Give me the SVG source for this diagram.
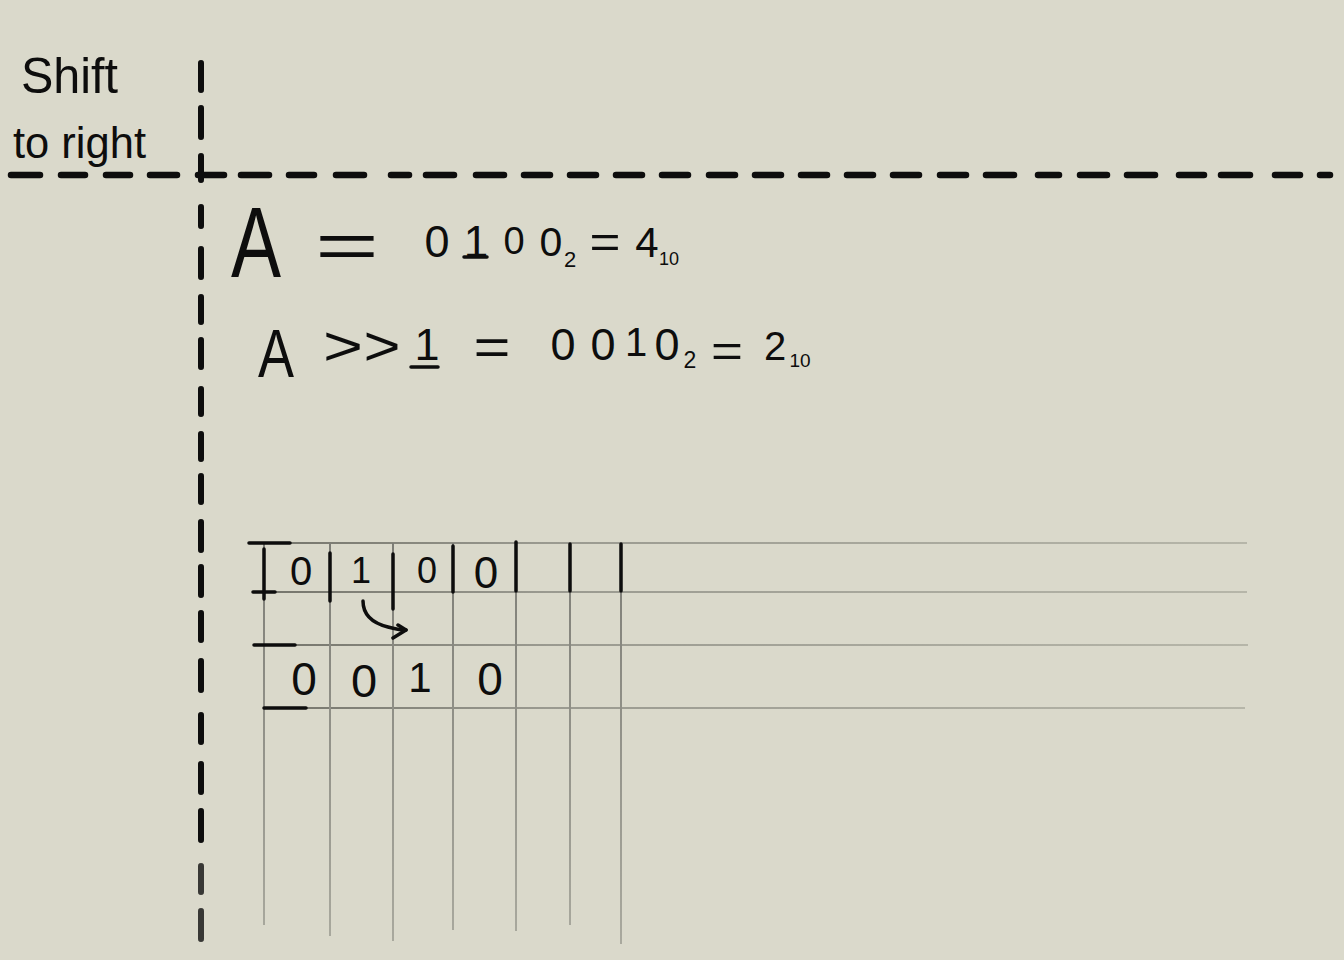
<svg xmlns="http://www.w3.org/2000/svg" width="1344" height="960" viewBox="0 0 1344 960">
<defs>
<style>
.hw{font-family:"Liberation Sans",Arial,sans-serif;fill:#0d0d0d;text-anchor:middle}
.hl{font-family:"Liberation Sans",Arial,sans-serif;fill:#0d0d0d}
.dash{fill:none;stroke:#0a0a0a;stroke-linecap:round}
.ink{fill:none;stroke:#0d0d0d;stroke-width:3.5;stroke-linecap:round;stroke-linejoin:round}
.gh{fill:none;stroke:url(#gh);stroke-width:2}
.gv{fill:none;stroke:url(#gv);stroke-width:2}
</style>
<filter id="soft" x="-5%" y="-5%" width="110%" height="110%">
<feGaussianBlur stdDeviation="0.7"/>
</filter>
<linearGradient id="gh" gradientUnits="userSpaceOnUse" x1="248" y1="0" x2="1248" y2="0">
<stop offset="0" stop-color="#727269"/>
<stop offset="0.3" stop-color="#9a9a90"/>
<stop offset="1" stop-color="#b6b6a9"/>
</linearGradient>
<linearGradient id="gv" gradientUnits="userSpaceOnUse" x1="0" y1="543" x2="0" y2="944">
<stop offset="0" stop-color="#7d7d76"/>
<stop offset="1" stop-color="#a9a99e"/>
</linearGradient>
<marker id="open" markerUnits="userSpaceOnUse" markerWidth="30" markerHeight="30" refX="15" refY="15" orient="auto" viewBox="0 0 30 30">
<path d="M7 10 L15 15 L2 23" fill="none" stroke="#0d0d0d" stroke-width="3.5" stroke-linecap="round" stroke-linejoin="round"/>
</marker>
</defs>
<rect width="1344" height="960" fill="#dad9cb"/>

<g id="axes" filter="url(#soft)">
<path class="dash" stroke-width="6.5" d="M11 175H40 M61 175H85 M106 175H130 M150 175H177 M198 175H224 M241 175H269 M289 175H314 M336 175H364 M391 175H409 M426 175H454 M476 175H504 M524 175H550 M570 175H596 M616 175H642 M662 175H688 M709 175H735 M755 175H781 M801 175H827 M847 175H873 M893 175H919 M940 175H966 M986 175H1014 M1038 175H1059 M1080 175H1107 M1127 175H1155 M1179 175H1204 M1221 175H1250 M1275 175H1300 M1320 175H1330"/>
<path class="dash" stroke-width="6" d="M201 63V90 M201 108V137 M201 156V180 M201 207V226 M201 249V277 M201 297V322 M201 340V367 M201 389V414 M201 434V459 M201 476V502 M201 522V550 M201 567V595 M201 613V640 M201 661V690 M201 715V742 M201 764V792 M201 811V840"/>
<path class="dash" stroke-width="6" stroke-opacity="0.8" d="M201 866V892 M201 911V939"/>
</g>

<g id="title">
<text class="hl" x="21" y="93" font-size="50" textLength="97" lengthAdjust="spacingAndGlyphs">Shift</text>
<text class="hl" x="13" y="158" font-size="44" textLength="133" lengthAdjust="spacingAndGlyphs">to right</text>
</g>

<g id="formula1">
<text class="hw" x="256" y="277" font-size="100" textLength="50" lengthAdjust="spacingAndGlyphs">A</text>
<text class="hw" x="347" y="268" font-size="64" textLength="64" lengthAdjust="spacingAndGlyphs">=</text>
<text class="hw" x="437" y="257" font-size="45">0</text>
<text class="hw" x="476" y="257" font-size="44">1</text>
<line class="ink" x1="464" y1="257" x2="487" y2="257"/>
<text class="hw" x="514" y="254" font-size="38">0</text>
<text class="hw" x="551" y="256" font-size="41">0</text>
<text class="hw" x="570" y="267" font-size="22">2</text>
<text class="hw" x="605" y="258" font-size="46" textLength="31" lengthAdjust="spacingAndGlyphs">=</text>
<text class="hw" x="647" y="257" font-size="42">4</text>
<text class="hw" x="669" y="265" font-size="18">10</text>
</g>

<g id="formula2">
<text class="hw" x="276" y="377" font-size="68" textLength="36" lengthAdjust="spacingAndGlyphs">A</text>
<text class="hw" x="343" y="365" font-size="56" textLength="40" lengthAdjust="spacingAndGlyphs">&gt;</text>
<text class="hw" x="382" y="365" font-size="56" textLength="37" lengthAdjust="spacingAndGlyphs">&gt;</text>
<text class="hw" x="427" y="360" font-size="45">1</text>
<line class="ink" x1="411" y1="367" x2="438" y2="367"/>
<text class="hw" x="492" y="365" font-size="52" textLength="37" lengthAdjust="spacingAndGlyphs">=</text>
<text class="hw" x="563" y="360" font-size="45">0</text>
<text class="hw" x="603" y="360" font-size="45">0</text>
<text class="hw" x="636" y="356" font-size="40">1</text>
<text class="hw" x="667" y="360" font-size="45">0</text>
<text class="hw" x="690" y="368" font-size="23">2</text>
<text class="hw" x="727" y="367" font-size="46" textLength="32" lengthAdjust="spacingAndGlyphs">=</text>
<text class="hw" x="775" y="360" font-size="40">2</text>
<text class="hw" x="800" y="367" font-size="19">10</text>
</g>

<g id="grid">
<path class="gh" d="M248 543H1247 M252 592H1247 M253 645H1248 M263 708H1245"/>
<path class="gv" d="M264 543V925 M330 543V936 M393 543V941 M453 543V930 M516 543V931 M570 543V925 M621 543V944"/>
<path class="ink" d="M249 543H290 M253 592H275 M254 645H295 M264 708H306"/>
<path class="ink" d="M264 549V599 M330 553V601 M393 554V609 M453 546V592 M516 542V591 M570 544V591 M621 544V591"/>
</g>

<g id="row-input">
<text class="hw" x="301" y="585" font-size="40">0</text>
<text class="hw" x="361" y="583" font-size="36">1</text>
<text class="hw" x="427" y="583" font-size="36">0</text>
<text class="hw" x="486" y="588" font-size="44">0</text>
</g>

<g id="row-output">
<text class="hw" x="304" y="695" font-size="46">0</text>
<text class="hw" x="364" y="697" font-size="47">0</text>
<text class="hw" x="420" y="692" font-size="42">1</text>
<text class="hw" x="490" y="695" font-size="46">0</text>
</g>

<g id="connectors">
<path class="ink" d="M363 601 C363 614 372 623 388 627 C395 629 401 630 406 630" marker-end="url(#open)"/>
</g>
</svg>
